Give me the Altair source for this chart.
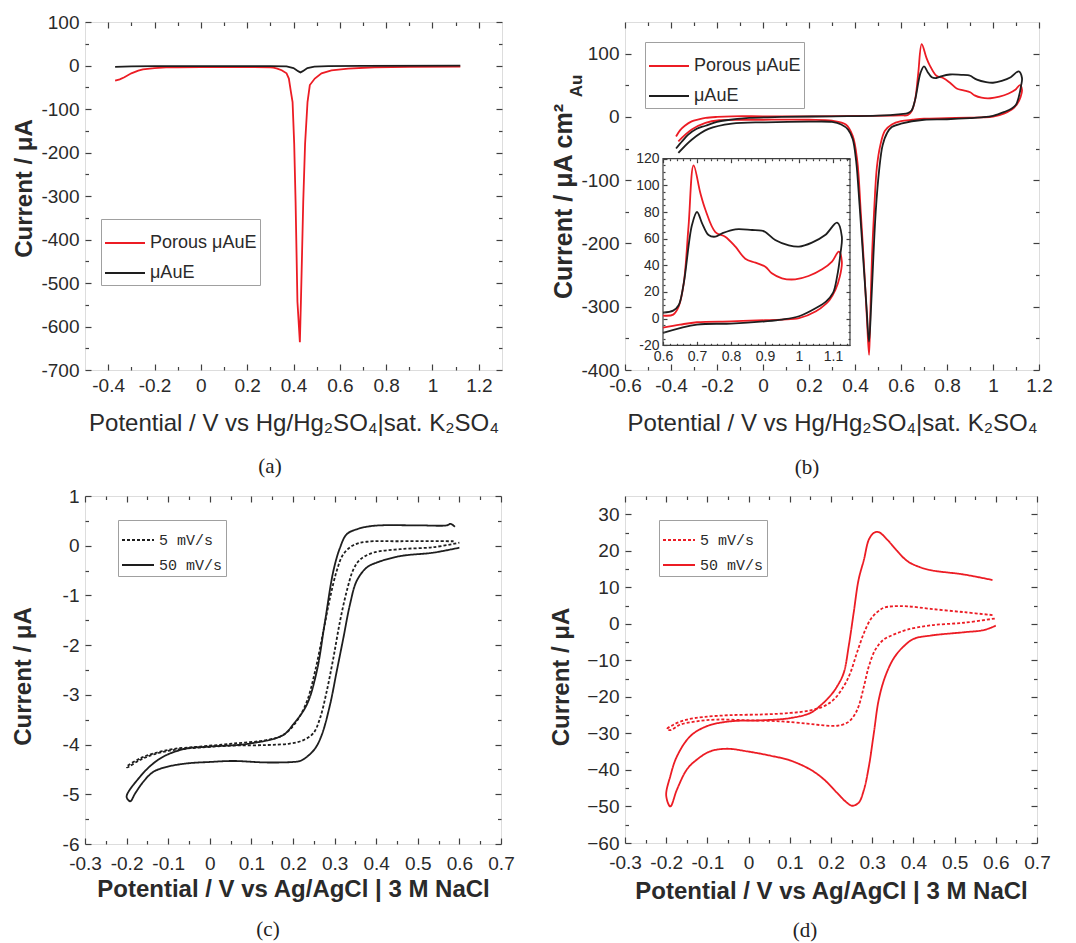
import altair as alt
import pandas as pd

FONT = "Liberation Sans"
SERIF = "Liberation Serif"
MONO = "Liberation Mono"
RED = "#ec1c24"
BLACK = "#1e1e1e"
AX = "#404040"
LAB = "#2a2a2a"

LBL_HYPHEN = "replace(format(datum.value, '~g'), '\u2212', '-')"
LBL_MINUS = "replace(format(datum.value, '~g'), '-', '\u2212')"

# ---------------- panel (a) data ----------------
A_XDOM = [-0.5, 1.3]
A_YDOM = [-700, 100]
A_XMAJ = [-0.4, -0.2, 0, 0.2, 0.4, 0.6, 0.8, 1, 1.2]
A_XMIN = [-0.3, -0.1, 0.1, 0.3, 0.5, 0.7, 0.9, 1.1]
A_YMAJ = [-700, -600, -500, -400, -300, -200, -100, 0, 100]
A_YMIN = [-650, -550, -450, -350, -250, -150, -50, 50]
A_SERIES = ["Porous μAuE", "μAuE"]
a_porous_x = [-0.37, -0.35, -0.33, -0.30, -0.27, -0.25, -0.20, -0.15, -0.10, 0.00, 0.10, 0.20, 0.30,
              0.313, 0.33, 0.349, 0.37, 0.38, 0.389, 0.396, 0.403, 0.409, 0.417, 0.4275, 0.432, 0.437,
              0.442, 0.45, 0.4605, 0.4705, 0.492, 0.521, 0.564, 0.636, 0.75, 0.90, 1.12]
a_porous_y = [-35, -32, -27, -18, -12, -9, -6, -4.5, -4, -3.5, -3.5, -3.5, -4,
              -5, -7, -11, -18, -30, -61, -84, -180, -314, -543, -636, -543, -430,
              -314, -180, -84, -45, -30, -18, -11, -7, -4, -3, -2.5]
a_bare_x = [-0.37, -0.30, -0.20, 0.00, 0.30, 0.37, 0.40, 0.42, 0.43, 0.44, 0.46, 0.49, 0.55, 0.70, 1.12]
a_bare_y = [-3, -2, -1.5, -1.5, -1.5, -2, -6, -13, -16, -13, -6, -2.5, -1.5, -1, -0.5]

# ---------------- panel (b) data ----------------
B_XDOM = [-0.6, 1.2]
B_YDOM = [-400, 150]
B_XMAJ = [-0.6, -0.4, -0.2, 0, 0.2, 0.4, 0.6, 0.8, 1, 1.2]
B_XMIN = [-0.5, -0.3, -0.1, 0.1, 0.3, 0.5, 0.7, 0.9, 1.1]
B_YMAJ = [-400, -300, -200, -100, 0, 100]
B_YMIN = [-350, -250, -150, -50, 50]
b_porous_x = [-0.378, -0.36, -0.34, -0.31, -0.28, -0.25, -0.2, -0.135, 0.0, 0.2, 0.4, 0.6, 0.63, 0.646,
              0.661, 0.675, 0.69, 0.71, 0.725, 0.754, 0.783, 0.813, 0.842, 0.872, 0.901, 0.92, 0.95,
              0.989, 1.028, 1.068, 1.097, 1.117,
              1.126, 1.12, 1.107, 1.09, 1.08, 1.05, 1.0, 0.95, 0.9, 0.8, 0.7, 0.65, 0.6, 0.56, 0.53,
              0.51, 0.495, 0.483, 0.474, 0.466, 0.461, 0.452, 0.44, 0.425, 0.41, 0.39, 0.36, 0.30,
              0.2, 0.0, -0.1, -0.19, -0.25, -0.31, -0.368]
b_porous_y = [-31, -21, -14, -7, -4, -1.6, 0, 1, 1, 1, 1.5, 2.3, 3, 9,
              26.5, 69, 115, 94, 81.5, 65, 61.5, 54, 45, 42, 39, 34, 30.3,
              29.5, 32, 37, 42.8, 50.3,
              42.8, 31.5, 21.5, 14, 11.3, 5.5, 0.3, -0.7, -1.2, -2, -2.7, -4.5, -6.7, -12, -22,
              -45, -80, -150, -220, -320, -376, -320, -240, -150, -70, -30, -12, -6,
              -4.5, -4.5, -4.8, -5.3, -9.5, -20, -38.6]
b_bare_x = [-0.378, -0.35, -0.325, -0.29, -0.25, -0.2, -0.16, -0.06, 0.08, 0.3, 0.5, 0.6, 0.63, 0.646,
            0.661, 0.685, 0.70, 0.715, 0.734, 0.754, 0.774, 0.813, 0.862, 0.89, 0.901, 0.93, 0.97,
            1.0, 1.038, 1.077, 1.112,
            1.126, 1.122, 1.112, 1.1, 1.08, 1.05, 1.0, 0.95, 0.9, 0.8, 0.7, 0.6, 0.56, 0.54, 0.52,
            0.505, 0.49, 0.48, 0.47, 0.461, 0.45, 0.435, 0.42, 0.405, 0.39, 0.37, 0.34, 0.30,
            0.2, 0.01, -0.135, -0.237, -0.31, -0.368]
b_bare_y = [-50, -38, -28, -19, -14, -8, -5.3, -1.6, 0, 1, 2, 4.5, 6, 10,
            26.5, 70, 80, 71.5, 62.7, 61.5, 64, 67, 66.5, 66, 65, 59, 55,
            54, 57, 62.7, 72,
            61.5, 49, 31.5, 19.3, 13, 8, 1.8, -0.7, -2, -3.7, -4.5, -10.7, -16, -25, -45,
            -84, -150, -220, -300, -355, -300, -220, -140, -70, -35, -20, -12, -8,
            -7.5, -8.5, -10.6, -19, -36, -57]

# inset of (b)
I_XDOM = [0.6, 1.15]
I_YDOM = [-20, 120]
I_XMAJ = [0.6, 0.7, 0.8, 0.9, 1, 1.1]
I_YMAJ = [-20, 0, 20, 40, 60, 80, 100, 120]
I_XMIN = [round(0.6 + 0.02 * k, 2) for k in range(1, 28) if k % 5 != 0]
I_YMIN = [-15, -10, -5, 5, 10, 15, 25, 30, 35, 45, 50, 55, 65, 70, 75, 85, 90, 95, 105, 110, 115]

# ---------------- panel (c) data ----------------
C_XDOM = [-0.3, 0.7]
C_YDOM = [-6, 1]
C_XMAJ = [-0.3, -0.2, -0.1, 0, 0.1, 0.2, 0.3, 0.4, 0.5, 0.6, 0.7]
C_XMIN = [-0.25, -0.15, -0.05, 0.05, 0.15, 0.25, 0.35, 0.45, 0.55, 0.65]
C_YMAJ = [-6, -5, -4, -3, -2, -1, 0, 1]
C_YMIN = [-5.5, -4.5, -3.5, -2.5, -1.5, -0.5, 0.5]
SCAN_SERIES = ["5 mV/s", "50 mV/s"]
c_slow_x = [0.586, 0.457, 0.377, 0.345, 0.321, 0.305, 0.289, 0.273, 0.253, 0.233, 0.208, 0.176, 0.136,
            0.056, -0.024, -0.088, -0.136, -0.168, -0.2, -0.199, -0.168, -0.136, -0.088, -0.024, 0.056,
            0.136, 0.192, 0.225, 0.249, 0.265, 0.281, 0.297, 0.313, 0.329, 0.345, 0.361, 0.393, 0.457,
            0.537, 0.6]
c_slow_y = [0.09, 0.09, 0.08, 0.01, -0.17, -0.51, -1.05, -1.72, -2.53, -3.14, -3.54, -3.81, -3.91,
            -3.98, -4.04, -4.09, -4.18, -4.28, -4.45, -4.46, -4.31, -4.2, -4.11, -4.06, -4.02,
            -4.01, -3.98, -3.91, -3.77, -3.47, -2.93, -2.26, -1.52, -0.92, -0.48, -0.28, -0.14, -0.07,
            -0.03, 0.06]
c_fast_x = [0.589, 0.579, 0.57, 0.497, 0.393, 0.353, 0.329, 0.313, 0.297, 0.277, 0.257, 0.233, 0.2,
            0.176, 0.096, 0.0, -0.056, -0.104, -0.136, -0.168, -0.2, -0.191, -0.18, -0.16, -0.136,
            -0.104, -0.056, 0.0, 0.056, 0.136, 0.2, 0.217, 0.233, 0.253, 0.269, 0.289, 0.305, 0.321,
            0.337, 0.353, 0.377, 0.401, 0.457, 0.537, 0.6]
c_fast_y = [0.38, 0.44, 0.41, 0.41, 0.40, 0.33, 0.23, -0.04, -0.51, -1.52, -2.53, -3.2, -3.6,
            -3.81, -3.98, -4.04, -4.08, -4.21, -4.38, -4.65, -5.05, -5.14, -4.99, -4.75, -4.55,
            -4.45, -4.38, -4.35, -4.33, -4.36, -4.35, -4.33, -4.25, -4.08, -3.81, -3.2, -2.53, -1.86,
            -1.18, -0.71, -0.44, -0.34, -0.21, -0.14, -0.04]

# ---------------- panel (d) data ----------------
D_XDOM = [-0.3, 0.7]
D_YDOM = [-60, 35]
D_XMAJ = C_XMAJ
D_XMIN = C_XMIN
D_YMAJ = [-60, -50, -40, -30, -20, -10, 0, 10, 20, 30]
D_YMIN = [-55, -45, -35, -25, -15, -5, 5, 15, 25]
d_slow_x = [0.592, 0.523, 0.442, 0.385, 0.349, 0.328, 0.312, 0.296, 0.28, 0.263, 0.247, 0.231, 0.207,
            0.182, 0.15, 0.101, 0.036, -0.045, -0.109, -0.15, -0.182, -0.198, -0.19, -0.166, -0.126,
            -0.077, -0.004, 0.077, 0.142, 0.182, 0.215, 0.239, 0.255, 0.267, 0.28, 0.292, 0.308,
            0.328, 0.353, 0.385, 0.442, 0.523, 0.6]
d_slow_y = [2.4, 3.2, 4.1, 4.8, 4.8, 4.4, 3.2, 1.2, -2.5, -7.9, -13.4, -17.1, -20.7,
            -22.6, -23.7, -24.4, -24.8, -25.0, -25.5, -26.2, -27.6, -28.8, -29.1, -27.6, -26.7,
            -26.2, -26.4, -26.7, -27.3, -27.8, -27.9, -27.1, -25.3, -22.6, -17.1, -11.6, -7.0,
            -4.3, -2.9, -1.6, -0.4, 0.3, 1.5]
d_fast_x = [0.592, 0.523, 0.442, 0.409, 0.385, 0.361, 0.336, 0.316, 0.304, 0.292, 0.28, 0.267, 0.255,
            0.243, 0.231, 0.215, 0.199, 0.174, 0.15, 0.101, 0.036, -0.045, -0.101, -0.142, -0.174,
            -0.19, -0.2, -0.19, -0.174, -0.15, -0.126, -0.093, -0.053, -0.004, 0.053, 0.101, 0.15,
            0.182, 0.215, 0.239, 0.251, 0.267, 0.28, 0.292, 0.304, 0.316, 0.332, 0.353, 0.377, 0.401,
            0.442, 0.523, 0.571, 0.6]
d_fast_y = [12.0, 13.5, 14.7, 15.8, 17.2, 19.9, 23.1, 25.1, 24.9, 23.1, 17.6, 12.1, 3.0,
            -6.1, -13.4, -17.1, -19.6, -22.4, -24.4, -25.8, -26.4, -26.7, -28.0, -30.8, -36.3,
            -41.7, -47.0, -50.0, -45.4, -39.9, -37.2, -34.9, -34.2, -34.9, -36.1, -37.4, -39.9,
            -42.5, -46.3, -49.0, -49.8, -49.0, -45.4, -39.0, -29.9, -20.7, -14.3, -9.3, -6.1, -4.1,
            -3.2, -2.3, -1.7, -0.5]

PANEL_LABELS = ["(a)", "(b)", "(c)", "(d)"]
X_TITLE_HG = "Potential / V vs Hg/Hg\u2082SO\u2084|sat. K\u2082SO\u2084"
X_TITLE_AG = "Potential / V vs Ag/AgCl | 3 M NaCl"
Y_TITLE = "Current / μA"
Y_TITLE_B = "Current / μA cm\u00b2"
Y_SUB_B = "Au"


def series_df(mapping):
    rows = []
    for name, (xs, ys) in mapping.items():
        for i, (x, y) in enumerate(zip(xs, ys)):
            rows.append({"x": x, "y": y, "s": name, "i": i})
    return pd.DataFrame(rows)


def sc(dom, rng=None):
    if rng is None:
        return alt.Scale(domain=dom, nice=False, zero=False)
    return alt.Scale(domain=dom, nice=False, zero=False, range=rng)


def tick_axis(orient, offset, vals, size):
    return alt.Axis(orient=orient, offset=offset, values=vals, tickSize=size, ticks=True,
                    labels=False, domain=False, grid=False, title=None, tickColor=AX,
                    tickWidth=1.2, zindex=2)


def tick_layers(xdom, ydom, xs, ys, W, H, box, xmaj, xmin, ymaj, ymin, maj=6, mn=3.5):
    ghost = pd.DataFrame({"x": [xdom[0]], "y": [ydom[0]]})
    L, R, T, B = box
    specs = [((xmaj, maj, "top", -B), (ymaj, maj, "right", L - W)),
             ((xmaj, maj, "bottom", T - H), (ymaj, maj, "left", -R)),
             ((xmin, mn, "top", -B), (ymin, mn, "right", L - W)),
             ((xmin, mn, "bottom", T - H), (ymin, mn, "left", -R))]
    out = []
    for (xv, xsz, xo, xoff), (yv, ysz, yo, yoff) in specs:
        out.append(alt.Chart(ghost).mark_point(opacity=0, size=1).encode(
            x=alt.X("x:Q", scale=xs, axis=tick_axis(xo, xoff, xv, xsz)),
            y=alt.Y("y:Q", scale=ys, axis=tick_axis(yo, yoff, yv, ysz))))
    return out


def xaxis(vals, expr, size, W, title=None, tsize=24, tweight="normal", ty=53, offset=0, pad=6):
    kw = dict(orient="bottom", offset=offset, values=vals, ticks=False, domain=False, grid=False,
              labelExpr=expr, labelFont=FONT, labelFontSize=size, labelColor=LAB, labelPadding=pad,
              labelFlush=False, labelOverlap=False, zindex=2)
    if title:
        kw.update(title=title, titleFont=FONT, titleFontSize=tsize, titleFontWeight=tweight,
                  titleColor=LAB, titleX=W / 2, titleY=ty, titleAlign="center",
                  titleBaseline="middle")
    else:
        kw["title"] = None
    return alt.Axis(**kw)


def yaxis(vals, expr, size, H, title=None, tsize=24, tx=-61, ty=None, offset=0, pad=6):
    kw = dict(orient="left", offset=offset, values=vals, ticks=False, domain=False, grid=False,
              labelExpr=expr, labelFont=FONT, labelFontSize=size, labelColor=LAB, labelPadding=pad,
              labelFlush=False, labelOverlap=False, zindex=2)
    if title:
        kw.update(title=title, titleFont=FONT, titleFontSize=tsize, titleFontWeight="bold",
                  titleColor=LAB, titleX=tx, titleY=(H / 2 if ty is None else ty),
                  titleAngle=270, titleAlign="center", titleBaseline="middle")
    else:
        kw["title"] = None
    return alt.Axis(**kw)


def panel_label(text, x, y):
    return alt.Chart(pd.DataFrame({"t": [text]})).mark_text(
        font=SERIF, fontSize=21, color="#222", align="center", baseline="middle").encode(
        text="t:N", x=alt.value(x), y=alt.value(y))


def line_legend(x, y, font, size, length, rowpad, stroke=None):
    kw = dict(title=None, orient="none", legendX=x, legendY=y, symbolType="stroke",
              symbolSize=length * length, symbolStrokeWidth=2, labelFont=font, labelFontSize=size,
              labelColor=LAB, strokeColor="#a0a0a0", fillColor="white", padding=3,
              rowPadding=rowpad, labelOffset=4, symbolOffset=0)
    if stroke:
        kw["symbolStrokeColor"] = stroke
    return alt.Legend(**kw)


# ---------------- panel (a) ----------------
WA, HA = 417, 348
axs, ays = sc(A_XDOM), sc(A_YDOM)
a_df = series_df({A_SERIES[0]: (a_porous_x, a_porous_y), A_SERIES[1]: (a_bare_x, a_bare_y)})
a_lines = alt.Chart(a_df).mark_line(strokeWidth=1.8, interpolate="linear").encode(
    x=alt.X("x:Q", scale=axs, axis=xaxis(A_XMAJ, LBL_HYPHEN, 19, WA, X_TITLE_HG, 24, "normal", 53)),
    y=alt.Y("y:Q", scale=ays, axis=yaxis(A_YMAJ, LBL_HYPHEN, 19, HA, Y_TITLE, 24, -61, HA / 2 - 8)),
    color=alt.Color("s:N", scale=alt.Scale(domain=A_SERIES, range=[RED, BLACK]),
                    legend=line_legend(16, 197, FONT, 18, 40, -15)),
    order="i:Q")
panel_a = alt.layer(
    a_lines,
    *tick_layers(A_XDOM, A_YDOM, axs, ays, WA, HA, (0, WA, 0, HA), A_XMAJ, A_XMIN, A_YMAJ, A_YMIN),
    panel_label(PANEL_LABELS[0], 185, 445),
).resolve_scale(x="independent", y="independent").properties(width=WA, height=HA)

# ---------------- panel (b) ----------------
WB, HB = 414, 348
bxs, bys = sc(B_XDOM), sc(B_YDOM)
b_df = series_df({A_SERIES[0]: (b_porous_x, b_porous_y), A_SERIES[1]: (b_bare_x, b_bare_y)})
b_lines = alt.Chart(b_df).mark_line(strokeWidth=1.8, interpolate="catmull-rom").encode(
    x=alt.X("x:Q", scale=bxs, axis=xaxis(B_XMAJ, LBL_HYPHEN, 19, WB, X_TITLE_HG, 24, "normal", 53)),
    y=alt.Y("y:Q", scale=bys, axis=yaxis(B_YMAJ, LBL_HYPHEN, 19, HB, Y_TITLE_B, 25, -62, HB / 2 + 5)),
    color=alt.Color("s:N", scale=alt.Scale(domain=A_SERIES, range=[RED, BLACK]),
                    legend=line_legend(20, 20, FONT, 18, 40, -15)),
    order="i:Q")
IL, IR, IT, IB = 38, 225, 136.7, 323.3
ixs, iys = sc(I_XDOM, [IL, IR]), sc(I_YDOM, [IB, IT])
inset_box = alt.Chart(pd.DataFrame({"x": [I_XDOM[0]], "x2": [I_XDOM[1]],
                                    "y": [I_YDOM[0]], "y2": [I_YDOM[1]]})).mark_rect(
    fill="white", stroke=AX, strokeWidth=1.2).encode(
    x=alt.X("x:Q", scale=ixs, axis=xaxis(I_XMAJ, LBL_HYPHEN, 14, WB, offset=IB - HB, pad=4)),
    x2="x2:Q",
    y=alt.Y("y:Q", scale=iys, axis=yaxis(I_YMAJ, LBL_HYPHEN, 14, HB, offset=-IL, pad=4)),
    y2="y2:Q")
inset_lines = alt.Chart(b_df).transform_filter("datum.x >= 0.6").mark_line(
    strokeWidth=1.8, interpolate="catmull-rom").encode(
    x=alt.X("x:Q", scale=ixs, axis=None),
    y=alt.Y("y:Q", scale=iys, axis=None),
    color=alt.Color("s:N", scale=alt.Scale(domain=A_SERIES, range=[RED, BLACK]), legend=None),
    order="i:Q")
au_sub = alt.Chart(pd.DataFrame({"t": [Y_SUB_B]})).mark_text(
    font=FONT, fontSize=17, fontWeight="bold", color=LAB, angle=270, align="center",
    baseline="middle").encode(text="t:N", x=alt.value(-48), y=alt.value(64))
panel_b = alt.layer(
    b_lines,
    *tick_layers(B_XDOM, B_YDOM, bxs, bys, WB, HB, (0, WB, 0, HB), B_XMAJ, B_XMIN, B_YMAJ, B_YMIN),
    inset_box,
    inset_lines,
    *tick_layers(I_XDOM, I_YDOM, ixs, iys, WB, HB, (IL, IR, IT, IB), I_XMAJ, I_XMIN, I_YMAJ, I_YMIN,
                 maj=4, mn=2),
    au_sub,
    panel_label(PANEL_LABELS[1], 182, 446),
).resolve_scale(x="independent", y="independent").properties(width=WB, height=HB)

# ---------------- panel (c) ----------------
WC, HC = 416, 348
cxs, cys = sc(C_XDOM), sc(C_YDOM)
c_df = series_df({SCAN_SERIES[0]: (c_slow_x, c_slow_y), SCAN_SERIES[1]: (c_fast_x, c_fast_y)})
c_lines = alt.Chart(c_df).mark_line(strokeWidth=1.8, color=BLACK, interpolate="catmull-rom").encode(
    x=alt.X("x:Q", scale=cxs, axis=xaxis(C_XMAJ, LBL_HYPHEN, 19, WC, X_TITLE_AG, 24, "bold", 45, pad=10)),
    y=alt.Y("y:Q", scale=cys, axis=yaxis(C_YMAJ, LBL_HYPHEN, 19, HC, Y_TITLE, 24, -62, HC / 2 + 6)),
    strokeDash=alt.StrokeDash("s:N", scale=alt.Scale(domain=SCAN_SERIES, range=[[3, 2], [1, 0]]),
                              legend=line_legend(33, 24, MONO, 15, 32, -14, BLACK)),
    order="i:Q")
panel_c = alt.layer(
    c_lines,
    *tick_layers(C_XDOM, C_YDOM, cxs, cys, WC, HC, (0, WC, 0, HC), C_XMAJ, C_XMIN, C_YMAJ, C_YMIN),
    panel_label(PANEL_LABELS[2], 183, 434),
).resolve_scale(x="independent", y="independent").properties(width=WC, height=HC)

# ---------------- panel (d) ----------------
WD, HD = 412, 347
dxs, dys = sc(D_XDOM), sc(D_YDOM)
d_df = series_df({SCAN_SERIES[0]: (d_slow_x, d_slow_y), SCAN_SERIES[1]: (d_fast_x, d_fast_y)})
d_lines = alt.Chart(d_df).mark_line(strokeWidth=1.8, color=RED, interpolate="catmull-rom").encode(
    x=alt.X("x:Q", scale=dxs, axis=xaxis(D_XMAJ, LBL_HYPHEN, 19, WD, X_TITLE_AG, 24, "bold", 48, pad=10)),
    y=alt.Y("y:Q", scale=dys, axis=yaxis(D_YMAJ, LBL_MINUS, 19, HD, Y_TITLE, 24, -64, HD / 2 + 7)),
    strokeDash=alt.StrokeDash("s:N", scale=alt.Scale(domain=SCAN_SERIES, range=[[3, 2], [1, 0]]),
                              legend=line_legend(34, 24, MONO, 15, 32, -14, RED)),
    order="i:Q")
panel_d = alt.layer(
    d_lines,
    *tick_layers(D_XDOM, D_YDOM, dxs, dys, WD, HD, (0, WD, 0, HD), D_XMAJ, D_XMIN, D_YMAJ, D_YMIN),
    panel_label(PANEL_LABELS[3], 180, 435),
).resolve_scale(x="independent", y="independent").properties(width=WD, height=HD)

chart = alt.concat(
    panel_a, panel_b, panel_c, panel_d, columns=2,
    spacing={"row": 126, "column": 123}, bounds="flush",
).resolve_scale(
    color="independent", strokeDash="independent"
).resolve_legend(
    color="independent", strokeDash="independent"
).properties(
    padding={"left": 2, "top": 4, "right": 0, "bottom": 0}
).configure_view(stroke=AX, strokeWidth=1.3).configure(font=FONT)

chart.save("out.html", embed_options={"renderer": "svg", "actions": False})
